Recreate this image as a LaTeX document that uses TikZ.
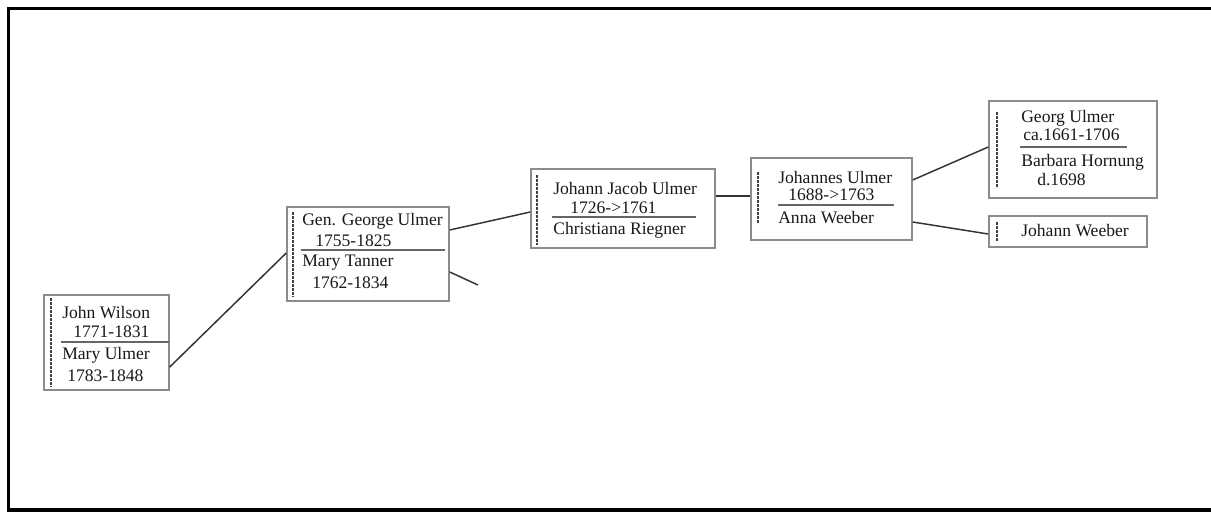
\documentclass[tikz,border=0pt]{standalone}
\usepackage{fontspec}
\setmainfont{Liberation Serif}
\begin{document}
\begin{tikzpicture}[x=0.75pt,y=-0.75pt,
  box/.style={draw=black!45,line width=1.1pt,inner sep=0pt,fill=white},
  txt/.style={anchor=west,inner sep=0pt,text=black!90,font=\fontsize{13.2}{15}\selectfont},
  sep/.style={draw=black!60,line width=1.1pt},
  vdash/.style={draw=black!75,line width=1.5pt,dash pattern=on 2pt off 1pt},
  link/.style={draw=black!80,line width=1.1pt}]
\useasboundingbox (0,0) rectangle (1211,511);
% frame
\draw[line width=2.4pt,black] (1215,8.5) -- (8.5,8.5) -- (8.5,515);
\draw[line width=2.4pt,black] (8.5,510) -- (1215,510);

% boxes
\node[box,minimum width=93.75pt,minimum height=71.25pt] (b1) at (106.5,342.5) {};
\node[box,minimum width=121.5pt,minimum height=70.5pt] (b2) at (368,254) {};
\node[box,minimum width=138pt,minimum height=59.25pt] (b3) at (623,208.5) {};
\node[box,minimum width=120.75pt,minimum height=61.5pt] (b4) at (831.5,199) {};
\node[box,minimum width=126pt,minimum height=72.75pt] (b5) at (1073,149.5) {};
\node[box,minimum width=118.5pt,minimum height=23.25pt] (b6) at (1068,231.5) {};

% box 1
\draw[vdash] (51,298) -- (51,387);
\draw[sep] (61,342) -- (169,342);
\node[txt] (t11) at (62,313) {John Wilson};
\node[txt] (t12) at (73,332) {1771-1831};
\node[txt] (t13) at (62,355) {Mary Ulmer};
\node[txt] (t14) at (67,376) {1783-1848};

% box 2
\draw[vdash] (293,212) -- (293,297);
\draw[sep] (301,250) -- (445,250);
\node[txt] (t21) at (302,221) {Gen. George Ulmer};
\node[txt] (t22) at (315,241) {1755-1825};
\node[txt] (t23) at (302,263) {Mary Tanner};
\node[txt] (t24) at (312,283) {1762-1834};

% box 3
\draw[vdash] (537,175) -- (537,245);
\draw[sep] (552,217) -- (696,217);
\node[txt] (t31) at (553,188) {Johann Jacob Ulmer};
\node[txt] (t32) at (570,208) {1726->1761};
\node[txt] (t33) at (553,230) {Christiana Riegner};

% box 4
\draw[vdash] (758,172) -- (758,223);
\draw[sep] (778,205) -- (894,205);
\node[txt] (t41) at (778,177) {Johannes Ulmer};
\node[txt] (t42) at (788,195) {1688->1763};
\node[txt] (t43) at (778,218) {Anna Weeber};

% box 5
\draw[vdash] (997,112) -- (997,188);
\draw[sep] (1020,147) -- (1127,147);
\node[txt] (t51) at (1021,118) {Georg Ulmer};
\node[txt] (t52) at (1023,135) {ca.1661-1706};
\node[txt] (t53) at (1021,162) {Barbara Hornung};
\node[txt] (t54) at (1037,180) {d.1698};

% box 6
\draw[vdash] (997,222) -- (997,242);
\node[txt] (t61) at (1021,231) {Johann Weeber};

% connectors
\coordinate (free) at (478,285);
\draw[link] ([shift={(0,24.5)}]b1.east) -- ([shift={(0,-1)}]b2.west);
\draw[link] ([shift={(0,-24)}]b2.east) -- ([shift={(0,3.5)}]b3.west);
\draw[link] ([shift={(0,18)}]b2.east) -- (free);
\draw[link] ([shift={(0,-12.5)}]b3.east) -- ([shift={(0,-3)}]b4.west);
\draw[link] ([shift={(0,-19)}]b4.east) -- ([shift={(0,-2.5)}]b5.west);
\draw[link] ([shift={(0,23)}]b4.east) -- ([shift={(0,2.5)}]b6.west);
\end{tikzpicture}
\end{document}
